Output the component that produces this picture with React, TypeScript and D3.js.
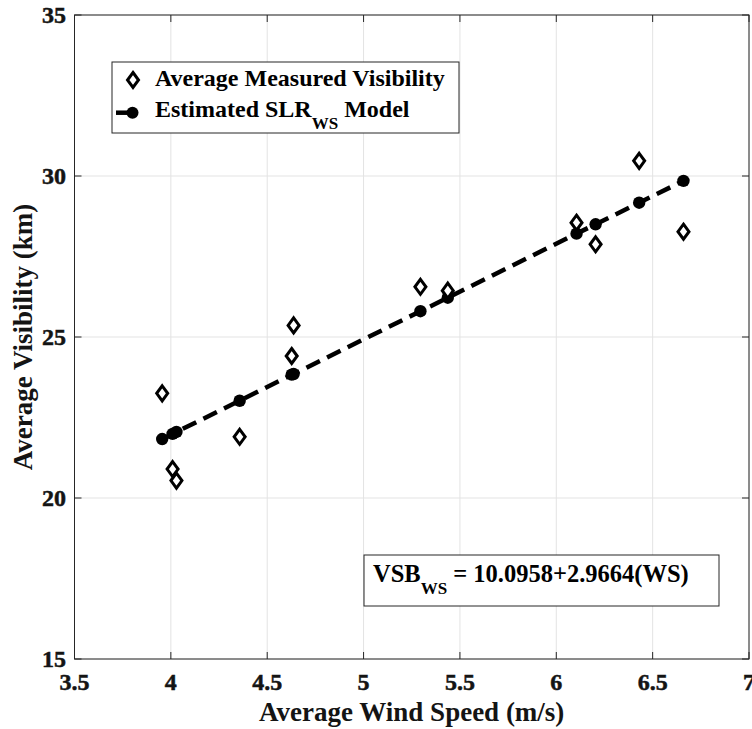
import React from "react";
import * as d3 from "d3";

const windSpeed = [3.955, 4.009, 4.029, 4.357, 4.627, 4.637, 5.295, 5.437, 6.105, 6.204, 6.43, 6.66];
const measuredVis = [23.25, 20.9, 20.54, 21.9, 24.41, 25.36, 26.56, 26.44, 28.55, 27.88, 30.47, 28.27];
const modelVis = [21.83, 21.99, 22.05, 23.02, 23.83, 23.85, 25.8, 26.22, 28.21, 28.5, 29.17, 29.85];
const xTicks = [3.5, 4, 4.5, 5, 5.5, 6, 6.5, 7];
const yTicks = [15, 20, 25, 30, 35];
const legendLabels = ["Average Measured Visibility", "Estimated SLR", "WS", " Model"];

const W = 752;
const H = 729;
const left = 74.5, right = 749, top = 15, bottom = 659;
const FONT = "'Liberation Serif', 'Times New Roman', serif";
const AX = "#262626";
const TXT = "#141414";

export default function App() {
  const x = d3.scaleLinear().domain([3.5, 7]).range([left, right]);
  const y = d3.scaleLinear().domain([15, 35]).range([bottom, top]);
  const line = d3.line<number>().x((d) => x(windSpeed[d])).y((d) => y(modelVis[d]));
  const idx = windSpeed.map((_, i) => i);
  const diamond = (cx: number, cy: number) =>
    `M${cx},${cy - 7.5}L${cx + 5.5},${cy}L${cx},${cy + 7.5}L${cx - 5.5},${cy}Z`;
  const tickLen = 7;

  return (
    <div style={{ position: "absolute", left: 0, top: 0 }}>
      <svg width={W} height={H} style={{ display: "block", background: "#fff" }} fontFamily={FONT} fontWeight="bold">
        {/* grid */}
        {xTicks.map((t) => (
          <line key={"gx" + t} x1={x(t)} x2={x(t)} y1={top} y2={bottom} stroke="#e3e3e3" strokeWidth={1} />
        ))}
        {yTicks.map((t) => (
          <line key={"gy" + t} x1={left} x2={right} y1={y(t)} y2={y(t)} stroke="#e3e3e3" strokeWidth={1} />
        ))}
        {/* box */}
        <rect x={left} y={top} width={right - left} height={bottom - top} fill="none" stroke={AX} strokeWidth={1} />
        {/* ticks */}
        {xTicks.map((t) => (
          <g key={"tx" + t}>
            <line x1={x(t)} x2={x(t)} y1={bottom} y2={bottom - tickLen} stroke={AX} />
            <line x1={x(t)} x2={x(t)} y1={top} y2={top + tickLen} stroke={AX} />
            <text x={x(t)} y={690} textAnchor="middle" fontSize={24} fill={TXT} stroke={TXT} strokeWidth={0.5}>{t}</text>
          </g>
        ))}
        {yTicks.map((t) => (
          <g key={"ty" + t}>
            <line x1={left} x2={left + tickLen} y1={y(t)} y2={y(t)} stroke={AX} />
            <line x1={right} x2={right - tickLen} y1={y(t)} y2={y(t)} stroke={AX} />
            <text x={66} y={y(t) + 8.3} textAnchor="end" fontSize={24} fill={TXT} stroke={TXT} strokeWidth={0.5}>{t}</text>
          </g>
        ))}
        {/* axis labels */}
        <text x={(left + right) / 2} y={721} textAnchor="middle" fontSize={27} fill={TXT}>Average Wind Speed (m/s)</text>
        <text transform={`translate(32,${(top + bottom) / 2}) rotate(-90)`} textAnchor="middle" fontSize={27} fill={TXT}>
          Average Visibility (km)
        </text>
        {/* model line */}
        <path d={line(idx) || ""} fill="none" stroke="#000" strokeWidth={4.5} strokeDasharray="15,8" />
        {idx.map((i) => (
          <circle key={"c" + i} cx={x(windSpeed[i])} cy={y(modelVis[i])} r={6.2} fill="#000" />
        ))}
        {/* measured */}
        {idx.map((i) => (
          <path key={"d" + i} d={diamond(x(windSpeed[i]), y(measuredVis[i]))} fill="#fff" stroke="#000" strokeWidth={3} />
        ))}
        {/* legend */}
        <rect x={112} y={62} width={347} height={71} fill="#fff" stroke={AX} strokeWidth={1} />
        <path d={diamond(133, 80)} fill="#fff" stroke="#000" strokeWidth={3} />
        <text x={155} y={86} fontSize={24} fill="#000">{legendLabels[0]}</text>
        <line x1={116} x2={134} y1={112.7} y2={112.7} stroke="#000" strokeWidth={4.5} />
        <circle cx={132.5} cy={112.7} r={6} fill="#000" />
        <text x={155} y={116.5} fontSize={24} fill="#000">
          {legendLabels[1]}
          <tspan fontSize={17} dy={12}>{legendLabels[2]}</tspan>
          <tspan dy={-12}>{legendLabels[3]}</tspan>
        </text>
        {/* equation box */}
        <rect x={364} y={555} width={355} height={51} fill="#fff" stroke={AX} strokeWidth={1} />
        <text x={373} y={582} fontSize={24.5} fill="#000">
          VSB
          <tspan fontSize={17} dy={12}>WS</tspan>
          <tspan dy={-12}> = 10.0958+2.9664(WS)</tspan>
        </text>
      </svg>
    </div>
  );
}
